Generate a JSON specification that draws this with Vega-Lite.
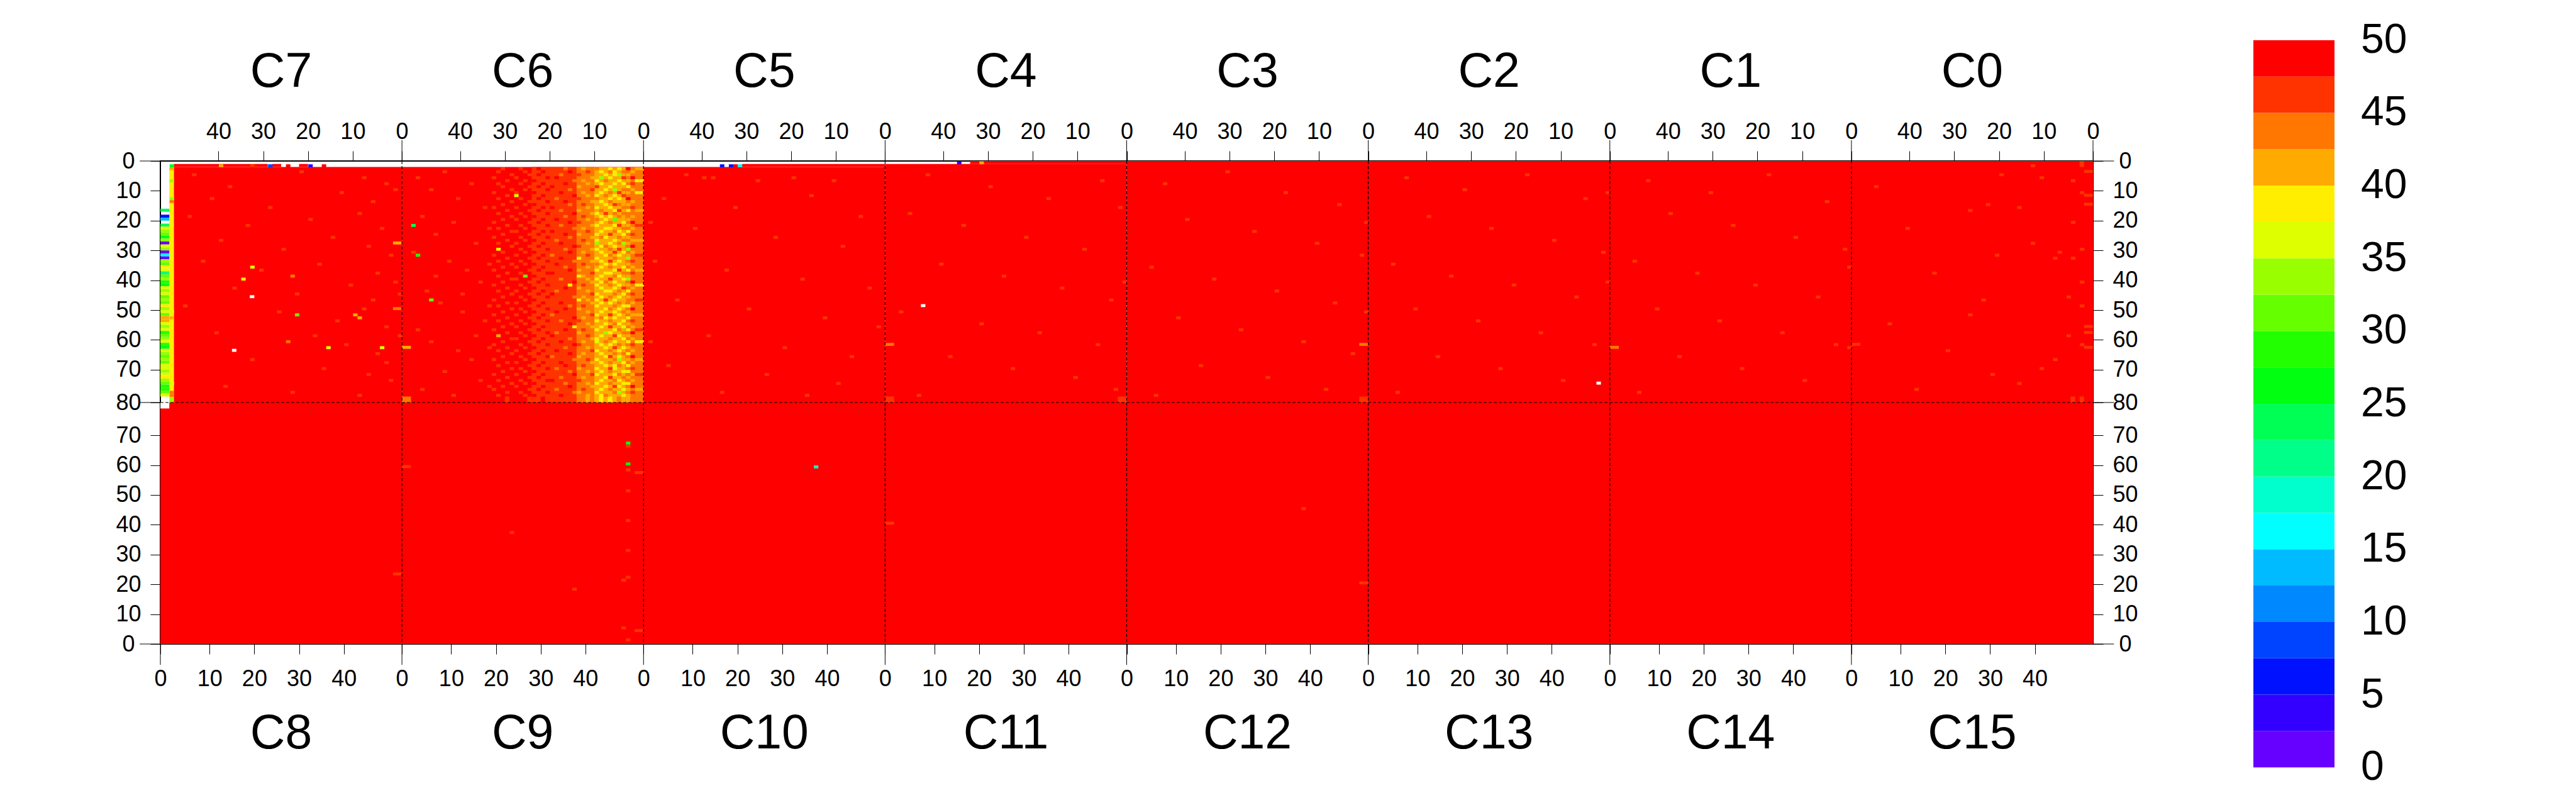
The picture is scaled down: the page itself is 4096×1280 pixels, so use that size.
{
"$schema":"https://vega.github.io/schema/vega-lite/v6.json",
"autosize":"none","width":3073,"height":768,
"padding":{"left":255,"top":256,"right":768,"bottom":256},
"background":"white",
"config":{"view":{"stroke":"black","strokeWidth":2},
"axis":{"domain":false,"grid":false,"title":null,"tickColor":"black","tickWidth":1,"tickSize":16,"labelFont":"Liberation Sans","labelFontSize":36,"labelColor":"black","labelFlush":false,"labelOverlap":false,"labelBound":false}},
"datasets":{
"blocks":[
{"x":3,"x2":54,"y":2,"y2":81,"v":49},{"x":2,"x2":3,"y":2,"y2":79,"v":39},{"x":2,"x2":3,"y":79,"y2":81,"v":34},
{"x":54,"x2":108,"y":2,"y2":81,"v":49},{"x":108,"x2":162,"y":2,"y2":81,"v":49},{"x":130,"x2":162,"y":1,"y2":2,"v":49},
{"x":162,"x2":216,"y":1,"y2":81,"v":49},{"x":181,"x2":216,"y":0,"y2":1,"v":49},{"x":216,"x2":432,"y":0,"y2":81,"v":49},
{"x":0,"x2":432,"y":81,"y2":162,"v":49},
{"x":3,"x2":24,"y":1,"y2":2,"v":49},{"x":25,"x2":27,"y":1,"y2":2,"v":49},{"x":31,"x2":33,"y":1,"y2":2,"v":49},
{"x":83,"x2":87,"y":2,"y2":81,"v":46},{"x":87,"x2":93,"y":2,"y2":81,"v":46},{"x":93,"x2":97,"y":2,"y2":81,"v":44},{"x":97,"x2":104,"y":2,"y2":81,"v":41},{"x":104,"x2":106,"y":2,"y2":81,"v":44},{"x":106,"x2":108,"y":2,"y2":81,"v":44},
{"x":54,"x2":56,"y":62,"y2":63,"v":41},{"x":54,"x2":56,"y":79,"y2":81,"v":44},{"x":52,"x2":54,"y":27,"y2":28,"v":41},{"x":52,"x2":54,"y":49,"y2":50,"v":44},
{"x":162,"x2":164,"y":61,"y2":62,"v":44},{"x":268,"x2":270,"y":61,"y2":62,"v":44},{"x":324,"x2":326,"y":62,"y2":63,"v":44},{"x":378,"x2":380,"y":61,"y2":62,"v":46},
{"x":430,"x2":432,"y":3,"y2":4,"v":46},{"x":430,"x2":432,"y":11,"y2":12,"v":46},{"x":430,"x2":432,"y":14,"y2":15,"v":46},{"x":430,"x2":432,"y":55,"y2":56,"v":46},{"x":430,"x2":432,"y":57,"y2":58,"v":46},{"x":430,"x2":432,"y":62,"y2":63,"v":46},
{"x":427,"x2":428,"y":79,"y2":81,"v":46},{"x":429,"x2":430,"y":79,"y2":81,"v":46},{"x":429,"x2":430,"y":0,"y2":2,"v":46},
{"x":162,"x2":164,"y":79,"y2":81,"v":46},{"x":214,"x2":216,"y":79,"y2":81,"v":46},{"x":268,"x2":270,"y":79,"y2":81,"v":46},
{"x":52,"x2":54,"y":138,"y2":139,"v":46},{"x":106,"x2":108,"y":104,"y2":105,"v":46},{"x":106,"x2":108,"y":157,"y2":158,"v":46},{"x":54,"x2":56,"y":102,"y2":103,"v":46},{"x":162,"x2":164,"y":121,"y2":122,"v":46},{"x":268,"x2":270,"y":141,"y2":142,"v":46},
{"x":77,"x2":78,"y":79,"y2":81,"v":46},{"x":82,"x2":83,"y":79,"y2":81,"v":46},{"x":85,"x2":86,"y":79,"y2":81,"v":49},{"x":95,"x2":96,"y":79,"y2":81,"v":41},{"x":98,"x2":99,"y":79,"y2":81,"v":39},{"x":100,"x2":101,"y":79,"y2":81,"v":39},{"x":102,"x2":103,"y":79,"y2":81,"v":44},{"x":104,"x2":105,"y":79,"y2":81,"v":41},
{"x":0,"x2":2,"y":16,"y2":17,"v":24},{"x":0,"x2":2,"y":18,"y2":19,"v":6},{"x":0,"x2":2,"y":19,"y2":20,"v":14},{"x":0,"x2":2,"y":21,"y2":22,"v":24},{"x":0,"x2":2,"y":22,"y2":23,"v":36},{"x":0,"x2":2,"y":23,"y2":24,"v":34},{"x":0,"x2":2,"y":24,"y2":25,"v":31},{"x":0,"x2":2,"y":25,"y2":26,"v":26},{"x":0,"x2":2,"y":26,"y2":27,"v":34},{"x":0,"x2":2,"y":27,"y2":28,"v":1},{"x":0,"x2":2,"y":28,"y2":29,"v":36},{"x":0,"x2":2,"y":29,"y2":30,"v":34},{"x":0,"x2":2,"y":30,"y2":31,"v":1},{"x":0,"x2":2,"y":31,"y2":32,"v":16},{"x":0,"x2":2,"y":32,"y2":33,"v":1},{"x":0,"x2":2,"y":33,"y2":34,"v":34},{"x":0,"x2":2,"y":34,"y2":35,"v":31},{"x":0,"x2":2,"y":35,"y2":36,"v":39},{"x":0,"x2":2,"y":36,"y2":37,"v":36},{"x":0,"x2":2,"y":37,"y2":38,"v":21},{"x":0,"x2":2,"y":38,"y2":39,"v":31},{"x":0,"x2":2,"y":39,"y2":40,"v":34},{"x":0,"x2":2,"y":40,"y2":41,"v":29},{"x":0,"x2":2,"y":41,"y2":42,"v":26},{"x":0,"x2":2,"y":42,"y2":43,"v":36},{"x":0,"x2":2,"y":43,"y2":44,"v":34},{"x":0,"x2":2,"y":44,"y2":45,"v":36},{"x":0,"x2":2,"y":45,"y2":46,"v":31},{"x":0,"x2":2,"y":46,"y2":47,"v":34},{"x":0,"x2":2,"y":47,"y2":48,"v":31},{"x":0,"x2":2,"y":48,"y2":49,"v":39},{"x":0,"x2":2,"y":49,"y2":50,"v":34},{"x":0,"x2":2,"y":50,"y2":51,"v":36},{"x":0,"x2":2,"y":51,"y2":52,"v":31},{"x":0,"x2":2,"y":52,"y2":53,"v":41},{"x":0,"x2":2,"y":53,"y2":54,"v":41},{"x":0,"x2":2,"y":54,"y2":55,"v":36},{"x":0,"x2":2,"y":55,"y2":56,"v":34},{"x":0,"x2":2,"y":56,"y2":57,"v":36},{"x":0,"x2":2,"y":57,"y2":58,"v":29},{"x":0,"x2":2,"y":58,"y2":59,"v":31},{"x":0,"x2":2,"y":59,"y2":60,"v":34},{"x":0,"x2":2,"y":60,"y2":61,"v":36},{"x":0,"x2":2,"y":61,"y2":62,"v":29},{"x":0,"x2":2,"y":62,"y2":63,"v":26},{"x":0,"x2":2,"y":63,"y2":64,"v":36},{"x":0,"x2":2,"y":64,"y2":65,"v":34},{"x":0,"x2":2,"y":65,"y2":66,"v":31},{"x":0,"x2":2,"y":66,"y2":67,"v":34},{"x":0,"x2":2,"y":67,"y2":68,"v":31},{"x":0,"x2":2,"y":68,"y2":69,"v":36},{"x":0,"x2":2,"y":69,"y2":70,"v":36},{"x":0,"x2":2,"y":70,"y2":71,"v":34},{"x":0,"x2":2,"y":71,"y2":72,"v":36},{"x":0,"x2":2,"y":72,"y2":73,"v":39},{"x":0,"x2":2,"y":73,"y2":74,"v":34},{"x":0,"x2":2,"y":74,"y2":75,"v":31},{"x":0,"x2":2,"y":75,"y2":76,"v":29},{"x":0,"x2":2,"y":76,"y2":77,"v":29},{"x":0,"x2":2,"y":77,"y2":78,"v":31},{"x":0,"x2":2,"y":78,"y2":79,"v":36}
],
"cells":[
{"x":2,"y":1,"v":26},{"x":13,"y":1,"v":41},{"x":20,"y":1,"v":46},{"x":24,"y":1,"v":9},{"x":28,"y":1,"v":49},{"x":33,"y":1,"v":4},{"x":36,"y":1,"v":49},
{"x":125,"y":1,"v":6},{"x":127,"y":1,"v":6},{"x":128,"y":1,"v":49},{"x":129,"y":1,"v":16},{"x":178,"y":0,"v":4},{"x":183,"y":0,"v":41},
{"x":2,"y":2,"v":41},{"x":2,"y":6,"v":34},{"x":2,"y":12,"v":34},{"x":2,"y":13,"v":44},{"x":2,"y":50,"v":36},{"x":2,"y":52,"v":41},{"x":2,"y":74,"v":36},{"x":2,"y":77,"v":44},{"x":2,"y":78,"v":44},
{"x":20,"y":35,"v":36},{"x":18,"y":39,"v":39},{"x":30,"y":51,"v":31},{"x":37,"y":62,"v":36},{"x":49,"y":62,"v":36},{"x":43,"y":51,"v":41},{"x":44,"y":52,"v":41},{"x":28,"y":60,"v":44},{"x":29,"y":38,"v":44},
{"x":7,"y":4,"v":46},{"x":15,"y":8,"v":46},{"x":31,"y":3,"v":46},{"x":45,"y":5,"v":46},{"x":50,"y":7,"v":46},{"x":11,"y":12,"v":46},{"x":24,"y":15,"v":46},{"x":40,"y":10,"v":46},{"x":47,"y":13,"v":46},{"x":52,"y":9,"v":46},{"x":6,"y":18,"v":46},{"x":19,"y":21,"v":46},{"x":33,"y":19,"v":46},{"x":44,"y":17,"v":46},{"x":49,"y":22,"v":46},{"x":13,"y":26,"v":46},{"x":27,"y":29,"v":46},{"x":38,"y":25,"v":46},{"x":46,"y":28,"v":46},{"x":51,"y":31,"v":46},{"x":9,"y":33,"v":46},{"x":22,"y":36,"v":46},{"x":35,"y":34,"v":46},{"x":48,"y":37,"v":46},{"x":52,"y":40,"v":46},{"x":16,"y":42,"v":46},{"x":30,"y":44,"v":46},{"x":42,"y":41,"v":46},{"x":47,"y":46,"v":46},{"x":5,"y":48,"v":46},{"x":26,"y":50,"v":46},{"x":39,"y":53,"v":46},{"x":45,"y":49,"v":46},{"x":50,"y":55,"v":46},{"x":12,"y":57,"v":46},{"x":34,"y":58,"v":46},{"x":41,"y":61,"v":46},{"x":48,"y":64,"v":46},{"x":20,"y":66,"v":46},{"x":36,"y":69,"v":46},{"x":46,"y":71,"v":46},{"x":51,"y":73,"v":46},{"x":14,"y":75,"v":46},{"x":29,"y":77,"v":46},{"x":44,"y":78,"v":46},{"x":50,"y":67,"v":46},{"x":53,"y":44,"v":46},{"x":53,"y":58,"v":46},
{"x":57,"y":5,"v":46},{"x":60,"y":9,"v":46},{"x":63,"y":3,"v":46},{"x":66,"y":12,"v":46},{"x":69,"y":7,"v":46},{"x":72,"y":15,"v":46},{"x":58,"y":18,"v":46},{"x":61,"y":24,"v":46},{"x":65,"y":20,"v":46},{"x":70,"y":27,"v":46},{"x":56,"y":30,"v":46},{"x":64,"y":33,"v":46},{"x":68,"y":36,"v":46},{"x":71,"y":40,"v":46},{"x":59,"y":43,"v":46},{"x":62,"y":47,"v":46},{"x":67,"y":50,"v":46},{"x":72,"y":53,"v":46},{"x":57,"y":56,"v":46},{"x":60,"y":60,"v":46},{"x":66,"y":63,"v":46},{"x":69,"y":66,"v":46},{"x":63,"y":70,"v":46},{"x":71,"y":73,"v":46},{"x":58,"y":76,"v":46},{"x":65,"y":78,"v":46},{"x":70,"y":58,"v":46},{"x":67,"y":44,"v":46},{"x":61,"y":38,"v":46},{"x":73,"y":22,"v":46},{"x":73,"y":34,"v":46},{"x":73,"y":48,"v":46},{"x":73,"y":62,"v":46},{"x":73,"y":75,"v":46},
{"x":56,"y":21,"v":24},{"x":57,"y":31,"v":29},{"x":60,"y":46,"v":31},
{"x":76,"y":2,"v":46},{"x":80,"y":2,"v":46},{"x":84,"y":2,"v":49},{"x":90,"y":2,"v":44},{"x":94,"y":2,"v":41},{"x":97,"y":2,"v":44},{"x":100,"y":2,"v":39},{"x":102,"y":2,"v":39},{"x":104,"y":2,"v":49},{"x":106,"y":2,"v":41},{"x":107,"y":2,"v":41},
{"x":75,"y":3,"v":46},{"x":81,"y":3,"v":46},{"x":85,"y":3,"v":49},{"x":91,"y":3,"v":49},{"x":95,"y":3,"v":46},{"x":98,"y":3,"v":39},{"x":100,"y":3,"v":44},{"x":101,"y":3,"v":39},{"x":103,"y":3,"v":44},{"x":105,"y":3,"v":41},
{"x":78,"y":4,"v":46},{"x":82,"y":4,"v":46},{"x":84,"y":4,"v":49},{"x":89,"y":4,"v":44},{"x":93,"y":4,"v":46},{"x":99,"y":4,"v":39},{"x":101,"y":4,"v":39},{"x":102,"y":4,"v":34},{"x":104,"y":4,"v":41},
{"x":74,"y":5,"v":46},{"x":79,"y":5,"v":46},{"x":86,"y":5,"v":49},{"x":88,"y":5,"v":49},{"x":96,"y":5,"v":41},{"x":98,"y":5,"v":34},{"x":100,"y":5,"v":39},{"x":103,"y":5,"v":46},{"x":105,"y":5,"v":49},
{"x":77,"y":6,"v":46},{"x":81,"y":6,"v":46},{"x":83,"y":6,"v":49},{"x":92,"y":6,"v":44},{"x":94,"y":6,"v":41},{"x":97,"y":6,"v":39},{"x":99,"y":6,"v":44},{"x":102,"y":6,"v":39},{"x":104,"y":6,"v":41},{"x":106,"y":6,"v":39},{"x":107,"y":6,"v":39},
{"x":75,"y":7,"v":46},{"x":80,"y":7,"v":46},{"x":85,"y":7,"v":49},{"x":90,"y":7,"v":49},{"x":95,"y":7,"v":41},{"x":98,"y":7,"v":39},{"x":101,"y":7,"v":39},{"x":103,"y":7,"v":39},{"x":105,"y":7,"v":46},
{"x":76,"y":8,"v":46},{"x":82,"y":8,"v":46},{"x":84,"y":8,"v":49},{"x":87,"y":8,"v":49},{"x":93,"y":8,"v":41},{"x":97,"y":8,"v":46},{"x":100,"y":8,"v":39},{"x":102,"y":8,"v":41},{"x":104,"y":8,"v":39},
{"x":78,"y":9,"v":46},{"x":81,"y":9,"v":46},{"x":86,"y":9,"v":49},{"x":91,"y":9,"v":44},{"x":96,"y":9,"v":46},{"x":99,"y":9,"v":39},{"x":101,"y":9,"v":34},{"x":103,"y":9,"v":44},{"x":105,"y":9,"v":41},
{"x":74,"y":10,"v":46},{"x":79,"y":10,"v":46},{"x":83,"y":10,"v":49},{"x":89,"y":10,"v":49},{"x":94,"y":10,"v":41},{"x":98,"y":10,"v":39},{"x":100,"y":10,"v":44},{"x":102,"y":10,"v":46},{"x":104,"y":10,"v":41},{"x":106,"y":10,"v":39},{"x":107,"y":10,"v":39},
{"x":77,"y":11,"v":46},{"x":79,"y":11,"v":36},{"x":85,"y":11,"v":49},{"x":92,"y":11,"v":49},{"x":95,"y":11,"v":41},{"x":97,"y":11,"v":39},{"x":99,"y":11,"v":44},{"x":101,"y":11,"v":39},{"x":103,"y":11,"v":46},
{"x":75,"y":12,"v":46},{"x":80,"y":12,"v":46},{"x":84,"y":12,"v":49},{"x":88,"y":12,"v":44},{"x":93,"y":12,"v":46},{"x":97,"y":12,"v":44},{"x":100,"y":12,"v":39},{"x":102,"y":12,"v":39},{"x":104,"y":12,"v":49},
{"x":78,"y":13,"v":46},{"x":82,"y":13,"v":46},{"x":86,"y":13,"v":49},{"x":90,"y":13,"v":49},{"x":96,"y":13,"v":41},{"x":98,"y":13,"v":39},{"x":100,"y":13,"v":44},{"x":103,"y":13,"v":41},{"x":105,"y":13,"v":41},
{"x":76,"y":14,"v":46},{"x":81,"y":14,"v":46},{"x":83,"y":14,"v":49},{"x":91,"y":14,"v":44},{"x":94,"y":14,"v":46},{"x":99,"y":14,"v":39},{"x":101,"y":14,"v":46},{"x":102,"y":14,"v":44},{"x":104,"y":14,"v":41},
{"x":74,"y":15,"v":46},{"x":79,"y":15,"v":46},{"x":85,"y":15,"v":49},{"x":87,"y":15,"v":49},{"x":95,"y":15,"v":41},{"x":97,"y":15,"v":39},{"x":100,"y":15,"v":39},{"x":103,"y":15,"v":44},{"x":105,"y":15,"v":46},
{"x":77,"y":16,"v":46},{"x":82,"y":16,"v":46},{"x":84,"y":16,"v":49},{"x":89,"y":16,"v":44},{"x":93,"y":16,"v":41},{"x":98,"y":16,"v":44},{"x":101,"y":16,"v":39},{"x":102,"y":16,"v":46},{"x":104,"y":16,"v":39},{"x":106,"y":16,"v":41},{"x":107,"y":16,"v":41},
{"x":75,"y":17,"v":46},{"x":80,"y":17,"v":46},{"x":86,"y":17,"v":49},{"x":92,"y":17,"v":49},{"x":96,"y":17,"v":41},{"x":97,"y":17,"v":39},{"x":99,"y":17,"v":46},{"x":101,"y":17,"v":44},{"x":103,"y":17,"v":44},
{"x":78,"y":18,"v":46},{"x":81,"y":18,"v":46},{"x":83,"y":18,"v":49},{"x":90,"y":18,"v":44},{"x":94,"y":18,"v":46},{"x":98,"y":18,"v":39},{"x":100,"y":18,"v":39},{"x":102,"y":18,"v":44},{"x":105,"y":18,"v":41},
{"x":76,"y":19,"v":46},{"x":79,"y":19,"v":46},{"x":85,"y":19,"v":49},{"x":88,"y":19,"v":49},{"x":95,"y":19,"v":41},{"x":97,"y":19,"v":44},{"x":99,"y":19,"v":39},{"x":101,"y":19,"v":31},{"x":104,"y":19,"v":41},
{"x":74,"y":20,"v":46},{"x":82,"y":20,"v":46},{"x":84,"y":20,"v":49},{"x":91,"y":20,"v":49},{"x":93,"y":20,"v":46},{"x":98,"y":20,"v":39},{"x":100,"y":20,"v":44},{"x":103,"y":20,"v":39},{"x":105,"y":20,"v":49},
{"x":77,"y":21,"v":46},{"x":80,"y":21,"v":46},{"x":86,"y":21,"v":49},{"x":89,"y":21,"v":44},{"x":96,"y":21,"v":41},{"x":97,"y":21,"v":39},{"x":101,"y":21,"v":39},{"x":102,"y":21,"v":46},{"x":104,"y":21,"v":41},{"x":106,"y":21,"v":46},{"x":107,"y":21,"v":46},
{"x":75,"y":22,"v":46},{"x":81,"y":22,"v":46},{"x":83,"y":22,"v":49},{"x":92,"y":22,"v":44},{"x":94,"y":22,"v":41},{"x":99,"y":22,"v":39},{"x":100,"y":22,"v":39},{"x":103,"y":22,"v":44},{"x":105,"y":22,"v":41},
{"x":78,"y":23,"v":46},{"x":79,"y":23,"v":46},{"x":85,"y":23,"v":49},{"x":87,"y":23,"v":49},{"x":95,"y":23,"v":46},{"x":98,"y":23,"v":39},{"x":101,"y":23,"v":44},{"x":102,"y":23,"v":39},{"x":104,"y":23,"v":39},
{"x":76,"y":24,"v":46},{"x":82,"y":24,"v":46},{"x":84,"y":24,"v":49},{"x":90,"y":24,"v":49},{"x":93,"y":24,"v":41},{"x":97,"y":24,"v":39},{"x":100,"y":24,"v":46},{"x":103,"y":24,"v":39},{"x":105,"y":24,"v":46},
{"x":74,"y":25,"v":46},{"x":80,"y":25,"v":46},{"x":86,"y":25,"v":49},{"x":91,"y":25,"v":44},{"x":96,"y":25,"v":41},{"x":98,"y":25,"v":44},{"x":99,"y":25,"v":39},{"x":102,"y":25,"v":44},{"x":104,"y":25,"v":41},
{"x":77,"y":26,"v":46},{"x":81,"y":26,"v":46},{"x":83,"y":26,"v":49},{"x":88,"y":26,"v":44},{"x":94,"y":26,"v":46},{"x":97,"y":26,"v":39},{"x":101,"y":26,"v":39},{"x":103,"y":26,"v":44},{"x":105,"y":26,"v":41},{"x":106,"y":26,"v":41},{"x":107,"y":26,"v":41},
{"x":75,"y":27,"v":46},{"x":79,"y":27,"v":46},{"x":85,"y":27,"v":49},{"x":89,"y":27,"v":49},{"x":95,"y":27,"v":41},{"x":97,"y":27,"v":34},{"x":100,"y":27,"v":39},{"x":102,"y":27,"v":44},{"x":103,"y":27,"v":34},{"x":104,"y":27,"v":41},
{"x":78,"y":28,"v":46},{"x":82,"y":28,"v":46},{"x":84,"y":28,"v":49},{"x":92,"y":28,"v":49},{"x":93,"y":28,"v":46},{"x":98,"y":28,"v":39},{"x":99,"y":28,"v":44},{"x":101,"y":28,"v":39},{"x":105,"y":28,"v":49},
{"x":75,"y":29,"v":39},{"x":80,"y":29,"v":46},{"x":86,"y":29,"v":49},{"x":90,"y":29,"v":44},{"x":96,"y":29,"v":41},{"x":97,"y":29,"v":39},{"x":100,"y":29,"v":44},{"x":102,"y":29,"v":46},{"x":104,"y":29,"v":34},
{"x":76,"y":30,"v":46},{"x":81,"y":30,"v":46},{"x":83,"y":30,"v":49},{"x":91,"y":30,"v":49},{"x":94,"y":30,"v":41},{"x":98,"y":30,"v":39},{"x":101,"y":30,"v":46},{"x":103,"y":30,"v":39},{"x":105,"y":30,"v":41},
{"x":74,"y":31,"v":46},{"x":79,"y":31,"v":46},{"x":85,"y":31,"v":49},{"x":87,"y":31,"v":44},{"x":95,"y":31,"v":46},{"x":99,"y":31,"v":39},{"x":100,"y":31,"v":44},{"x":102,"y":31,"v":39},{"x":104,"y":31,"v":41},{"x":106,"y":31,"v":46},{"x":107,"y":31,"v":46},
{"x":77,"y":32,"v":46},{"x":82,"y":32,"v":46},{"x":84,"y":32,"v":49},{"x":89,"y":32,"v":49},{"x":93,"y":32,"v":39},{"x":97,"y":32,"v":39},{"x":101,"y":32,"v":44},{"x":103,"y":32,"v":41},{"x":104,"y":32,"v":34},
{"x":75,"y":33,"v":46},{"x":80,"y":33,"v":46},{"x":86,"y":33,"v":49},{"x":92,"y":33,"v":44},{"x":96,"y":33,"v":41},{"x":98,"y":33,"v":39},{"x":100,"y":33,"v":46},{"x":102,"y":33,"v":39},{"x":105,"y":33,"v":46},
{"x":78,"y":34,"v":46},{"x":81,"y":34,"v":46},{"x":83,"y":34,"v":49},{"x":88,"y":34,"v":49},{"x":94,"y":34,"v":46},{"x":97,"y":34,"v":44},{"x":99,"y":34,"v":39},{"x":101,"y":34,"v":39},{"x":104,"y":34,"v":41},
{"x":76,"y":35,"v":46},{"x":79,"y":35,"v":46},{"x":85,"y":35,"v":49},{"x":90,"y":35,"v":44},{"x":95,"y":35,"v":41},{"x":98,"y":35,"v":39},{"x":100,"y":35,"v":44},{"x":103,"y":35,"v":39},{"x":105,"y":35,"v":41},
{"x":74,"y":36,"v":46},{"x":82,"y":36,"v":46},{"x":84,"y":36,"v":49},{"x":91,"y":36,"v":49},{"x":93,"y":36,"v":41},{"x":97,"y":36,"v":39},{"x":101,"y":36,"v":39},{"x":102,"y":36,"v":46},{"x":104,"y":36,"v":39},{"x":106,"y":36,"v":41},{"x":107,"y":36,"v":41},
{"x":77,"y":37,"v":46},{"x":80,"y":37,"v":46},{"x":86,"y":37,"v":49},{"x":87,"y":37,"v":49},{"x":96,"y":37,"v":46},{"x":99,"y":37,"v":39},{"x":100,"y":37,"v":39},{"x":103,"y":37,"v":44},{"x":105,"y":37,"v":46},
{"x":75,"y":38,"v":46},{"x":81,"y":38,"v":31},{"x":83,"y":38,"v":49},{"x":93,"y":38,"v":39},{"x":94,"y":38,"v":41},{"x":98,"y":38,"v":39},{"x":101,"y":38,"v":44},{"x":102,"y":38,"v":39},{"x":104,"y":38,"v":41},
{"x":78,"y":39,"v":46},{"x":79,"y":39,"v":46},{"x":85,"y":39,"v":49},{"x":89,"y":39,"v":44},{"x":95,"y":39,"v":41},{"x":97,"y":39,"v":39},{"x":100,"y":39,"v":46},{"x":103,"y":39,"v":39},{"x":104,"y":39,"v":34},
{"x":76,"y":40,"v":46},{"x":82,"y":40,"v":46},{"x":84,"y":40,"v":49},{"x":92,"y":40,"v":49},{"x":96,"y":40,"v":41},{"x":98,"y":40,"v":39},{"x":99,"y":40,"v":44},{"x":101,"y":40,"v":39},{"x":105,"y":40,"v":49},
{"x":74,"y":41,"v":46},{"x":80,"y":41,"v":46},{"x":86,"y":41,"v":49},{"x":91,"y":41,"v":39},{"x":94,"y":41,"v":46},{"x":97,"y":41,"v":39},{"x":100,"y":41,"v":44},{"x":102,"y":41,"v":39},{"x":104,"y":41,"v":41},{"x":106,"y":41,"v":39},{"x":107,"y":41,"v":39},
{"x":77,"y":42,"v":46},{"x":81,"y":42,"v":46},{"x":83,"y":42,"v":49},{"x":90,"y":42,"v":49},{"x":93,"y":42,"v":41},{"x":98,"y":42,"v":36},{"x":101,"y":42,"v":39},{"x":103,"y":42,"v":46},{"x":105,"y":42,"v":41},
{"x":75,"y":43,"v":46},{"x":79,"y":43,"v":46},{"x":85,"y":43,"v":49},{"x":88,"y":43,"v":44},{"x":95,"y":43,"v":41},{"x":99,"y":43,"v":39},{"x":100,"y":43,"v":39},{"x":102,"y":43,"v":44},{"x":104,"y":43,"v":39},
{"x":78,"y":44,"v":46},{"x":82,"y":44,"v":46},{"x":84,"y":44,"v":49},{"x":87,"y":44,"v":49},{"x":96,"y":44,"v":46},{"x":97,"y":44,"v":39},{"x":101,"y":44,"v":44},{"x":103,"y":44,"v":39},{"x":105,"y":44,"v":46},
{"x":76,"y":45,"v":46},{"x":80,"y":45,"v":46},{"x":86,"y":45,"v":49},{"x":92,"y":45,"v":44},{"x":94,"y":45,"v":41},{"x":98,"y":45,"v":39},{"x":100,"y":45,"v":44},{"x":102,"y":45,"v":39},{"x":104,"y":45,"v":41},
{"x":74,"y":46,"v":46},{"x":81,"y":46,"v":46},{"x":83,"y":46,"v":49},{"x":93,"y":46,"v":39},{"x":95,"y":46,"v":41},{"x":97,"y":46,"v":39},{"x":99,"y":46,"v":46},{"x":101,"y":46,"v":39},{"x":103,"y":46,"v":41},{"x":106,"y":46,"v":46},{"x":107,"y":46,"v":46},
{"x":77,"y":47,"v":46},{"x":79,"y":47,"v":46},{"x":85,"y":47,"v":49},{"x":89,"y":47,"v":49},{"x":96,"y":47,"v":41},{"x":98,"y":47,"v":39},{"x":100,"y":47,"v":39},{"x":102,"y":47,"v":44},{"x":105,"y":47,"v":41},
{"x":75,"y":48,"v":46},{"x":82,"y":48,"v":46},{"x":84,"y":48,"v":49},{"x":91,"y":48,"v":44},{"x":94,"y":48,"v":46},{"x":97,"y":48,"v":39},{"x":101,"y":48,"v":44},{"x":103,"y":48,"v":39},{"x":104,"y":48,"v":39},
{"x":78,"y":49,"v":46},{"x":80,"y":49,"v":46},{"x":86,"y":49,"v":49},{"x":90,"y":49,"v":49},{"x":93,"y":49,"v":41},{"x":99,"y":49,"v":39},{"x":100,"y":49,"v":44},{"x":102,"y":49,"v":39},{"x":105,"y":49,"v":49},
{"x":76,"y":50,"v":46},{"x":81,"y":50,"v":46},{"x":83,"y":50,"v":49},{"x":88,"y":50,"v":49},{"x":95,"y":50,"v":41},{"x":98,"y":50,"v":39},{"x":101,"y":50,"v":39},{"x":103,"y":50,"v":44},{"x":104,"y":50,"v":41},
{"x":74,"y":51,"v":46},{"x":79,"y":51,"v":46},{"x":85,"y":51,"v":49},{"x":87,"y":51,"v":44},{"x":96,"y":51,"v":46},{"x":97,"y":51,"v":39},{"x":100,"y":51,"v":46},{"x":102,"y":51,"v":39},{"x":105,"y":51,"v":41},{"x":106,"y":51,"v":41},{"x":107,"y":51,"v":41},
{"x":77,"y":52,"v":46},{"x":82,"y":52,"v":46},{"x":84,"y":52,"v":49},{"x":92,"y":52,"v":49},{"x":94,"y":52,"v":41},{"x":98,"y":52,"v":44},{"x":99,"y":52,"v":39},{"x":101,"y":52,"v":39},{"x":104,"y":52,"v":39},
{"x":75,"y":53,"v":46},{"x":80,"y":53,"v":46},{"x":86,"y":53,"v":49},{"x":89,"y":53,"v":44},{"x":93,"y":53,"v":46},{"x":97,"y":53,"v":39},{"x":100,"y":53,"v":44},{"x":103,"y":53,"v":39},{"x":105,"y":53,"v":46},
{"x":78,"y":54,"v":46},{"x":81,"y":54,"v":46},{"x":83,"y":54,"v":49},{"x":91,"y":54,"v":49},{"x":95,"y":54,"v":41},{"x":99,"y":54,"v":39},{"x":101,"y":54,"v":44},{"x":102,"y":54,"v":39},{"x":104,"y":54,"v":41},
{"x":76,"y":55,"v":46},{"x":79,"y":55,"v":46},{"x":85,"y":55,"v":49},{"x":92,"y":55,"v":39},{"x":96,"y":55,"v":41},{"x":98,"y":55,"v":39},{"x":100,"y":55,"v":46},{"x":103,"y":55,"v":36},{"x":105,"y":55,"v":41},
{"x":74,"y":56,"v":46},{"x":82,"y":56,"v":46},{"x":84,"y":56,"v":49},{"x":90,"y":56,"v":49},{"x":94,"y":56,"v":46},{"x":97,"y":56,"v":39},{"x":101,"y":56,"v":39},{"x":102,"y":56,"v":44},{"x":104,"y":56,"v":39},{"x":106,"y":56,"v":46},{"x":107,"y":56,"v":46},
{"x":77,"y":57,"v":46},{"x":80,"y":57,"v":46},{"x":86,"y":57,"v":49},{"x":88,"y":57,"v":44},{"x":93,"y":57,"v":41},{"x":99,"y":57,"v":34},{"x":100,"y":57,"v":39},{"x":103,"y":57,"v":44},{"x":105,"y":57,"v":49},
{"x":75,"y":58,"v":41},{"x":81,"y":58,"v":46},{"x":83,"y":58,"v":49},{"x":87,"y":58,"v":49},{"x":95,"y":58,"v":46},{"x":98,"y":58,"v":39},{"x":101,"y":58,"v":46},{"x":102,"y":58,"v":39},{"x":104,"y":58,"v":41},
{"x":78,"y":59,"v":46},{"x":79,"y":59,"v":46},{"x":85,"y":59,"v":49},{"x":91,"y":59,"v":44},{"x":96,"y":59,"v":41},{"x":97,"y":59,"v":39},{"x":100,"y":59,"v":44},{"x":103,"y":59,"v":39},{"x":105,"y":59,"v":41},
{"x":76,"y":60,"v":46},{"x":82,"y":60,"v":46},{"x":84,"y":60,"v":49},{"x":89,"y":60,"v":49},{"x":94,"y":60,"v":41},{"x":97,"y":60,"v":36},{"x":99,"y":60,"v":44},{"x":101,"y":60,"v":39},{"x":104,"y":60,"v":39},{"x":106,"y":60,"v":39},{"x":107,"y":60,"v":39},
{"x":74,"y":61,"v":46},{"x":80,"y":61,"v":46},{"x":86,"y":61,"v":49},{"x":92,"y":61,"v":49},{"x":93,"y":61,"v":46},{"x":98,"y":61,"v":39},{"x":100,"y":61,"v":39},{"x":102,"y":61,"v":44},{"x":105,"y":61,"v":46},
{"x":77,"y":62,"v":46},{"x":81,"y":62,"v":46},{"x":83,"y":62,"v":49},{"x":90,"y":62,"v":44},{"x":95,"y":62,"v":41},{"x":99,"y":62,"v":39},{"x":101,"y":62,"v":46},{"x":103,"y":62,"v":39},{"x":104,"y":62,"v":41},
{"x":75,"y":63,"v":46},{"x":79,"y":63,"v":46},{"x":85,"y":63,"v":49},{"x":88,"y":63,"v":49},{"x":96,"y":63,"v":46},{"x":97,"y":63,"v":39},{"x":100,"y":63,"v":44},{"x":102,"y":63,"v":39},{"x":105,"y":63,"v":41},
{"x":78,"y":64,"v":46},{"x":82,"y":64,"v":46},{"x":84,"y":64,"v":49},{"x":91,"y":64,"v":49},{"x":94,"y":64,"v":41},{"x":98,"y":64,"v":39},{"x":101,"y":64,"v":44},{"x":103,"y":64,"v":44},{"x":104,"y":64,"v":39},
{"x":76,"y":65,"v":46},{"x":80,"y":65,"v":46},{"x":86,"y":65,"v":49},{"x":87,"y":65,"v":44},{"x":93,"y":65,"v":41},{"x":99,"y":65,"v":39},{"x":100,"y":65,"v":46},{"x":102,"y":65,"v":39},{"x":105,"y":65,"v":49},
{"x":74,"y":66,"v":46},{"x":81,"y":66,"v":46},{"x":83,"y":66,"v":49},{"x":92,"y":66,"v":44},{"x":95,"y":66,"v":46},{"x":97,"y":66,"v":39},{"x":101,"y":66,"v":44},{"x":102,"y":66,"v":34},{"x":104,"y":66,"v":41},{"x":106,"y":66,"v":41},{"x":107,"y":66,"v":41},
{"x":77,"y":67,"v":46},{"x":79,"y":67,"v":46},{"x":85,"y":67,"v":49},{"x":89,"y":67,"v":49},{"x":96,"y":67,"v":41},{"x":98,"y":67,"v":39},{"x":100,"y":67,"v":44},{"x":103,"y":67,"v":39},{"x":105,"y":67,"v":41},
{"x":75,"y":68,"v":46},{"x":82,"y":68,"v":46},{"x":84,"y":68,"v":49},{"x":90,"y":68,"v":49},{"x":94,"y":68,"v":46},{"x":99,"y":68,"v":39},{"x":101,"y":68,"v":39},{"x":102,"y":68,"v":44},{"x":104,"y":68,"v":39},
{"x":78,"y":69,"v":46},{"x":80,"y":69,"v":46},{"x":86,"y":69,"v":49},{"x":88,"y":69,"v":44},{"x":93,"y":69,"v":41},{"x":97,"y":69,"v":39},{"x":100,"y":69,"v":46},{"x":101,"y":69,"v":36},{"x":105,"y":69,"v":46},
{"x":76,"y":70,"v":46},{"x":81,"y":70,"v":46},{"x":83,"y":70,"v":49},{"x":91,"y":70,"v":44},{"x":95,"y":70,"v":41},{"x":98,"y":70,"v":39},{"x":100,"y":70,"v":44},{"x":103,"y":70,"v":39},{"x":104,"y":70,"v":36},
{"x":74,"y":71,"v":46},{"x":79,"y":71,"v":46},{"x":85,"y":71,"v":49},{"x":92,"y":71,"v":49},{"x":96,"y":71,"v":46},{"x":97,"y":71,"v":39},{"x":101,"y":71,"v":39},{"x":102,"y":71,"v":44},{"x":105,"y":71,"v":41},{"x":106,"y":71,"v":46},{"x":107,"y":71,"v":46},
{"x":77,"y":72,"v":46},{"x":82,"y":72,"v":46},{"x":84,"y":72,"v":49},{"x":89,"y":72,"v":44},{"x":94,"y":72,"v":41},{"x":99,"y":72,"v":39},{"x":100,"y":72,"v":46},{"x":103,"y":72,"v":44},{"x":104,"y":72,"v":41},
{"x":75,"y":73,"v":46},{"x":80,"y":73,"v":46},{"x":86,"y":73,"v":49},{"x":87,"y":73,"v":49},{"x":93,"y":73,"v":46},{"x":98,"y":73,"v":39},{"x":101,"y":73,"v":44},{"x":102,"y":73,"v":39},{"x":105,"y":73,"v":41},
{"x":78,"y":74,"v":46},{"x":81,"y":74,"v":46},{"x":83,"y":74,"v":49},{"x":90,"y":74,"v":44},{"x":95,"y":74,"v":41},{"x":97,"y":74,"v":39},{"x":100,"y":74,"v":44},{"x":103,"y":74,"v":39},{"x":104,"y":74,"v":39},
{"x":76,"y":75,"v":46},{"x":79,"y":75,"v":46},{"x":85,"y":75,"v":49},{"x":91,"y":75,"v":49},{"x":96,"y":75,"v":41},{"x":99,"y":75,"v":39},{"x":101,"y":75,"v":46},{"x":102,"y":75,"v":39},{"x":105,"y":75,"v":49},
{"x":74,"y":76,"v":46},{"x":82,"y":76,"v":46},{"x":84,"y":76,"v":49},{"x":88,"y":76,"v":44},{"x":94,"y":76,"v":46},{"x":98,"y":76,"v":39},{"x":100,"y":76,"v":44},{"x":103,"y":76,"v":36},{"x":104,"y":76,"v":41},{"x":106,"y":76,"v":41},{"x":107,"y":76,"v":41},
{"x":77,"y":77,"v":46},{"x":80,"y":77,"v":46},{"x":86,"y":77,"v":49},{"x":92,"y":77,"v":44},{"x":93,"y":77,"v":41},{"x":97,"y":77,"v":39},{"x":101,"y":77,"v":44},{"x":102,"y":77,"v":34},{"x":105,"y":77,"v":46},
{"x":75,"y":78,"v":46},{"x":81,"y":78,"v":46},{"x":83,"y":78,"v":49},{"x":89,"y":78,"v":49},{"x":95,"y":78,"v":41},{"x":98,"y":78,"v":39},{"x":99,"y":78,"v":44},{"x":103,"y":78,"v":39},{"x":104,"y":78,"v":41},
{"x":117,"y":4,"v":46},{"x":121,"y":5,"v":46},{"x":123,"y":5,"v":46},{"x":133,"y":6,"v":46},{"x":141,"y":5,"v":46},{"x":150,"y":6,"v":46},{"x":112,"y":12,"v":46},{"x":128,"y":15,"v":46},{"x":145,"y":11,"v":46},{"x":156,"y":18,"v":46},{"x":119,"y":22,"v":46},{"x":137,"y":25,"v":46},{"x":152,"y":28,"v":46},{"x":110,"y":33,"v":46},{"x":126,"y":36,"v":46},{"x":143,"y":39,"v":46},{"x":158,"y":42,"v":46},{"x":115,"y":46,"v":46},{"x":131,"y":49,"v":46},{"x":148,"y":52,"v":46},{"x":160,"y":55,"v":46},{"x":122,"y":58,"v":46},{"x":139,"y":62,"v":46},{"x":154,"y":65,"v":46},{"x":113,"y":68,"v":46},{"x":135,"y":71,"v":46},{"x":151,"y":74,"v":46},{"x":125,"y":77,"v":46},{"x":144,"y":78,"v":46},{"x":109,"y":60,"v":46},{"x":109,"y":20,"v":46},
{"x":171,"y":4,"v":46},{"x":185,"y":8,"v":46},{"x":198,"y":12,"v":46},{"x":210,"y":6,"v":46},{"x":167,"y":17,"v":46},{"x":179,"y":21,"v":46},{"x":193,"y":25,"v":46},{"x":206,"y":29,"v":46},{"x":214,"y":15,"v":46},{"x":174,"y":34,"v":46},{"x":188,"y":38,"v":46},{"x":201,"y":42,"v":46},{"x":212,"y":46,"v":46},{"x":165,"y":50,"v":46},{"x":183,"y":54,"v":46},{"x":196,"y":57,"v":46},{"x":209,"y":61,"v":46},{"x":176,"y":65,"v":46},{"x":190,"y":69,"v":46},{"x":204,"y":72,"v":46},{"x":213,"y":76,"v":46},{"x":169,"y":78,"v":46},{"x":215,"y":40,"v":46},
{"x":224,"y":7,"v":46},{"x":238,"y":3,"v":46},{"x":251,"y":10,"v":46},{"x":263,"y":14,"v":46},{"x":229,"y":19,"v":46},{"x":244,"y":23,"v":46},{"x":258,"y":27,"v":46},{"x":268,"y":31,"v":46},{"x":221,"y":35,"v":46},{"x":235,"y":39,"v":46},{"x":249,"y":43,"v":46},{"x":262,"y":47,"v":46},{"x":227,"y":52,"v":46},{"x":241,"y":56,"v":46},{"x":255,"y":60,"v":46},{"x":266,"y":64,"v":46},{"x":232,"y":68,"v":46},{"x":247,"y":72,"v":46},{"x":260,"y":76,"v":46},{"x":222,"y":78,"v":46},{"x":269,"y":20,"v":46},{"x":269,"y":50,"v":46},
{"x":278,"y":5,"v":46},{"x":291,"y":9,"v":46},{"x":305,"y":4,"v":46},{"x":318,"y":12,"v":46},{"x":283,"y":18,"v":46},{"x":297,"y":22,"v":46},{"x":311,"y":26,"v":46},{"x":322,"y":30,"v":46},{"x":275,"y":34,"v":46},{"x":288,"y":38,"v":46},{"x":302,"y":41,"v":46},{"x":316,"y":45,"v":46},{"x":280,"y":49,"v":46},{"x":294,"y":53,"v":46},{"x":308,"y":57,"v":46},{"x":320,"y":61,"v":46},{"x":285,"y":65,"v":46},{"x":299,"y":69,"v":46},{"x":313,"y":73,"v":46},{"x":276,"y":77,"v":46},{"x":323,"y":10,"v":46},{"x":323,"y":40,"v":46},
{"x":332,"y":6,"v":46},{"x":346,"y":10,"v":46},{"x":359,"y":4,"v":46},{"x":372,"y":13,"v":46},{"x":337,"y":17,"v":46},{"x":351,"y":21,"v":46},{"x":365,"y":25,"v":46},{"x":376,"y":29,"v":46},{"x":329,"y":33,"v":46},{"x":343,"y":37,"v":46},{"x":356,"y":41,"v":46},{"x":370,"y":45,"v":46},{"x":334,"y":49,"v":46},{"x":348,"y":53,"v":46},{"x":362,"y":57,"v":46},{"x":374,"y":61,"v":46},{"x":339,"y":65,"v":46},{"x":353,"y":69,"v":46},{"x":367,"y":73,"v":46},{"x":330,"y":77,"v":46},{"x":377,"y":35,"v":46},{"x":377,"y":62,"v":46},
{"x":418,"y":1,"v":46},{"x":411,"y":4,"v":46},{"x":420,"y":5,"v":46},{"x":427,"y":6,"v":46},{"x":429,"y":10,"v":46},{"x":408,"y":14,"v":46},{"x":404,"y":16,"v":46},{"x":415,"y":15,"v":46},{"x":427,"y":20,"v":46},{"x":418,"y":27,"v":46},{"x":429,"y":29,"v":46},{"x":424,"y":30,"v":46},{"x":410,"y":31,"v":46},{"x":423,"y":32,"v":46},{"x":427,"y":32,"v":46},{"x":429,"y":40,"v":46},{"x":407,"y":46,"v":46},{"x":426,"y":45,"v":46},{"x":404,"y":51,"v":46},{"x":429,"y":48,"v":46},{"x":426,"y":58,"v":46},{"x":429,"y":61,"v":46},{"x":423,"y":66,"v":46},{"x":420,"y":69,"v":46},{"x":409,"y":71,"v":46},{"x":415,"y":74,"v":46},{"x":383,"y":8,"v":46},{"x":390,"y":22,"v":46},{"x":396,"y":37,"v":46},{"x":386,"y":54,"v":46},{"x":399,"y":63,"v":46},{"x":392,"y":76,"v":46},
{"x":104,"y":94,"v":26},{"x":104,"y":95,"v":46},{"x":104,"y":101,"v":26},{"x":104,"y":103,"v":46},{"x":104,"y":110,"v":46},{"x":104,"y":120,"v":46},{"x":78,"y":124,"v":46},{"x":104,"y":130,"v":46},{"x":103,"y":140,"v":46},{"x":104,"y":139,"v":46},{"x":92,"y":143,"v":46},{"x":103,"y":156,"v":46},{"x":104,"y":160,"v":46},{"x":146,"y":102,"v":19},{"x":255,"y":116,"v":46}
],
"blanks":[{"x":20,"x2":21,"y":45,"y2":46},{"x":16,"x2":17,"y":63,"y2":64},{"x":170,"x2":171,"y":48,"y2":49},{"x":321,"x2":322,"y":74,"y2":75},{"x":0,"x2":2,"y":81,"y2":83}],
"titles":[{"c":"C7","m":27,"h":"t"},{"c":"C6","m":81,"h":"t"},{"c":"C5","m":135,"h":"t"},{"c":"C4","m":189,"h":"t"},{"c":"C3","m":243,"h":"t"},{"c":"C2","m":297,"h":"t"},{"c":"C1","m":351,"h":"t"},{"c":"C0","m":405,"h":"t"},{"c":"C8","m":27,"h":"b"},{"c":"C9","m":81,"h":"b"},{"c":"C10","m":135,"h":"b"},{"c":"C11","m":189,"h":"b"},{"c":"C12","m":243,"h":"b"},{"c":"C13","m":297,"h":"b"},{"c":"C14","m":351,"h":"b"},{"c":"C15","m":405,"h":"b"}],
"vsep":[{"b":54},{"b":108},{"b":162},{"b":216},{"b":270},{"b":324},{"b":378}],
"hsep":[{"b":81}],
"topEdge":[{"b":54},{"b":108},{"b":162},{"b":216},{"b":270},{"b":324},{"b":378},{"b":432}],
"botEdge":[{"b":0},{"b":54},{"b":108},{"b":162},{"b":216},{"b":270},{"b":324},{"b":378}],
"sideEdge":[{"b":0},{"b":81},{"b":162}]
},
"layer":[
{"data":{"name":"blocks"},"mark":{"type":"rect","strokeWidth":0},
"encoding":{
"x":{"field":"x","type":"quantitative","scale":{"domain":[0,432],"nice":false,"zero":false},
"axis":{"orient":"bottom","values":[0,11,21,31,41,54,65,75,85,95,108,119,129,139,149,162,173,183,193,203,216,227,237,247,257,270,281,291,301,311,324,335,345,355,365,378,389,399,409,419],"labelExpr":"datum.value % 54 == 0 ? '0' : format(datum.value % 54 - 1, 'd')","labelPadding":22}},
"x2":{"field":"x2"},
"y":{"field":"y","type":"quantitative","scale":{"domain":[0,162],"reverse":true,"nice":false,"zero":false},
"axis":{"orient":"left","values":[0,10,20,30,40,50,60,70,81,92,102,112,122,132,142,152,162],"labelExpr":"datum.value <= 70 ? format(datum.value,'d') : datum.value == 81 ? '80' : format(162 - datum.value,'d')","labelAlign":"center","labelBaseline":"middle","labelPadding":35}},
"y2":{"field":"y2"},
"color":{"field":"v","type":"quantitative","scale":{"type":"quantize","domain":[-2.5,52.5],"range":["#ffffff","#6600ff","#3300ff","#0011ff","#0044ff","#0088ff","#00bbff","#00ffff","#00ffcc","#00ff88","#00ff55","#00ff11","#22ff00","#66ff00","#99ff00","#ddff00","#ffee00","#ffaa00","#ff7700","#ff3300","#ff0000","#ffffff"]},
"legend":{"type":"gradient","orient":"none","legendX":3328,"legendY":-250,"direction":"vertical","gradientLength":1272,"gradientThickness":129,"title":null,"padding":0,"labelFontSize":66,"labelFont":"Liberation Sans","labelColor":"black","labelOffset":42,"labelBaseline":"middle","labelOverlap":false,"gradientStrokeWidth":0,"labelExpr":"datum.value % 5 === 0 ? format(datum.value, 'd') : ''"}}}},
{"data":{"name":"cells"},"mark":{"type":"rect","strokeWidth":0},
"encoding":{
"x":{"field":"x","type":"quantitative","bin":{"binned":true,"step":1},"scale":{"domain":[0,432],"nice":false,"zero":false},"axis":null},
"y":{"field":"y","type":"quantitative","bin":{"binned":true,"step":1},"scale":{"domain":[0,162],"reverse":true,"nice":false,"zero":false},"axis":null},
"color":{"field":"v","type":"quantitative","scale":{"type":"quantize","domain":[-2.5,52.5],"range":["#ffffff","#6600ff","#3300ff","#0011ff","#0044ff","#0088ff","#00bbff","#00ffff","#00ffcc","#00ff88","#00ff55","#00ff11","#22ff00","#66ff00","#99ff00","#ddff00","#ffee00","#ffaa00","#ff7700","#ff3300","#ff0000","#ffffff"]},"legend":null}}},
{"data":{"name":"blanks"},"mark":{"type":"rect","color":"white","strokeWidth":0},
"encoding":{"x":{"field":"x","type":"quantitative","axis":null},"x2":{"field":"x2"},"y":{"field":"y","type":"quantitative","axis":null},"y2":{"field":"y2"}}},
{"data":{"name":"vsep"},"mark":{"type":"rule","color":"black","strokeWidth":1.2,"strokeDash":[5,3]},
"encoding":{"x":{"field":"b","type":"quantitative","axis":{"orient":"top","values":[13,23,33,43,54,67,77,87,97,108,121,131,141,151,162,175,185,195,205,216,229,239,249,259,270,283,293,303,313,324,337,347,357,367,378,391,401,411,421,432],"labelExpr":"(54 - datum.value % 54) % 54 == 0 ? '0' : format(53 - datum.value % 54, 'd')","labelPadding":12}},
"y":{"datum":0,"type":"quantitative","axis":null},"y2":{"datum":162}}},
{"data":{"name":"hsep"},"mark":{"type":"rule","color":"black","strokeWidth":1.2,"strokeDash":[5,3]},
"encoding":{"y":{"field":"b","type":"quantitative","axis":{"orient":"right","values":[0,10,20,30,40,50,60,70,81,92,102,112,122,132,142,152,162],"labelExpr":"datum.value <= 70 ? format(datum.value,'d') : datum.value == 81 ? '80' : format(162 - datum.value,'d')","labelAlign":"center","labelBaseline":"middle","labelPadding":35}},
"x":{"datum":0,"type":"quantitative","axis":null},"x2":{"datum":432}}},
{"data":{"name":"topEdge"},"mark":{"type":"rule","color":"black","strokeWidth":1},
"encoding":{"x":{"field":"b","type":"quantitative","axis":null},"y":{"datum":-7,"type":"quantitative","axis":null},"y2":{"datum":0}}},
{"data":{"name":"botEdge"},"mark":{"type":"rule","color":"black","strokeWidth":1},
"encoding":{"x":{"field":"b","type":"quantitative","axis":null},"y":{"datum":162,"type":"quantitative","axis":null},"y2":{"datum":169}}},
{"data":{"name":"sideEdge"},"mark":{"type":"rule","color":"black","strokeWidth":1},
"encoding":{"y":{"field":"b","type":"quantitative","axis":null},"x":{"datum":-4.6,"type":"quantitative","axis":null},"x2":{"datum":0}}},
{"data":{"name":"sideEdge"},"mark":{"type":"rule","color":"black","strokeWidth":1},
"encoding":{"y":{"field":"b","type":"quantitative","axis":null},"x":{"datum":432,"type":"quantitative","axis":null},"x2":{"datum":436.7}}},
{"data":{"name":"titles"},"transform":[{"filter":"datum.h == 't'"}],"mark":{"type":"text","font":"Liberation Sans","fontSize":77,"color":"black","baseline":"middle","align":"center","dy":-141},
"encoding":{"x":{"field":"m","type":"quantitative","axis":null},"y":{"datum":0,"type":"quantitative","axis":null},"text":{"field":"c"}}},
{"data":{"name":"titles"},"transform":[{"filter":"datum.h == 'b'"}],"mark":{"type":"text","font":"Liberation Sans","fontSize":77,"color":"black","baseline":"middle","align":"center","dy":143},
"encoding":{"x":{"field":"m","type":"quantitative","axis":null},"y":{"datum":162,"type":"quantitative","axis":null},"text":{"field":"c"}}}
]
}
